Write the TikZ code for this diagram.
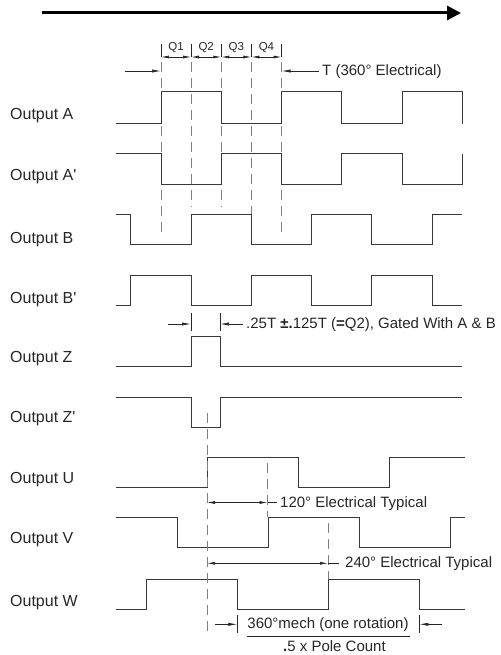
\documentclass[tikz,border=0pt]{standalone}
\usepackage{fontspec}
\setmainfont{Liberation Sans}
\usetikzlibrary{arrows.meta}
\begin{document}
\begin{tikzpicture}[x=1pt,y=-1pt,
  wave/.style={draw=black!78,line width=1pt,line join=miter},
  guide/.style={draw=black!50,line width=0.7pt,dash pattern=on 10pt off 6pt},
  dim/.style={draw=black!85,line width=0.7pt},
  dimarrow/.style={dim,-{Latex[length=9pt,width=3.2pt]}},
  dimboth/.style={dim,{Latex[length=8pt,width=3pt]}-{Latex[length=8pt,width=3pt]}},
  lbl/.style={anchor=base west,inner sep=0pt,font=\fontsize{16}{18}\selectfont,text=black!85},
  note/.style={anchor=base west,inner sep=0pt,font=\fontsize{15}{17}\selectfont,text=black!85},
  qlbl/.style={anchor=base,inner sep=0pt,font=\fontsize{11.5}{13}\selectfont,text=black!85}
]
\useasboundingbox (0,0) rectangle (500,655);

% direction arrow
\coordinate (dirL) at (42,13);
\coordinate (dirR) at (461,13);
\draw[line width=3pt,-{Triangle[length=14pt,width=14pt]}] (dirL) -- (dirR);

% labels
\node[lbl] (lA)  at (10,120) {Output A};
\node[lbl] (lA2) at (10,180) {Output A\textquotesingle};
\node[lbl] (lB)  at (10,243) {Output B};
\node[lbl] (lB2) at (10,303) {Output B\textquotesingle};
\node[lbl] (lZ)  at (10,362) {Output Z};
\node[lbl] (lZ2) at (10,422) {Output Z\textquotesingle};
\node[lbl] (lU)  at (10,483) {Output U};
\node[lbl] (lV)  at (10,543) {Output V};
\node[lbl] (lW)  at (10,606) {Output W};

% guide lines (quarters)
\foreach \x/\yb in {161/238,191.125/206.5,221.25/206.5,251.375/238,281.5/238}{
  \draw[dim] (\x,44) -- (\x,57);
  \draw[guide] (\x,62) -- (\x,\yb);
}
% Q dimension arrows
\coordinate (q0) at (161,57);
\coordinate (q1) at (191.125,57);
\coordinate (q2) at (221.25,57);
\coordinate (q3) at (251.375,57);
\coordinate (q4) at (281.5,57);
\draw[dimboth] (q0) -- (q1);
\draw[dimboth] (q1) -- (q2);
\draw[dimboth] (q2) -- (q3);
\draw[dimboth] (q3) -- (q4);
\node[qlbl] (Q1) at (176.06,51) {Q1};
\node[qlbl] (Q2) at (206.19,51) {Q2};
\node[qlbl] (Q3) at (236.31,51) {Q3};
\node[qlbl] (Q4) at (266.44,51) {Q4};

% T dimension
\coordinate (tL0) at (125,71);
\coordinate (tL1) at (161,71);
\coordinate (tR0) at (319,71);
\coordinate (tR1) at (281.5,71);
\draw[dimarrow] (tL0) -- (tL1);
\draw[dimarrow] (tR0) -- (tR1);
\node[note] (tText) at (322,75.5) {T (360° Electrical)};

% waveforms A, A', B, B'
\draw[wave] (116,124) -- (161,124) |- (221.25,92) |- (281.5,124) |- (341.75,92) |- (402,124) |- (462.25,92) -- (462.25,124);
\draw[wave] (116,154) -- (161,154) |- (221.25,184) |- (281.5,154) |- (341.75,184) |- (402,154) |- (462.25,184) -- (462.25,154);
\draw[wave] (116,214.3) -- (130.9,214.3) |- (191.1,244.3) |- (251.4,214.3) |- (311.6,244.3) |- (371.9,214.3) |- (432.1,244.3) |- (462.25,214.3);
\draw[wave] (116,305) -- (130.9,305) |- (191.1,275) |- (251.4,305) |- (311.6,275) |- (371.9,305) |- (432.1,275) |- (462.25,305);

% .25T dimension
\draw[dim] (191,313) -- (191,331);
\draw[dim] (220,313) -- (220,331);
\coordinate (zL0) at (168,324);
\coordinate (zL1) at (191,324);
\coordinate (zR0) at (243,324);
\coordinate (zR1) at (220,324);
\draw[dimarrow] (zL0) -- (zL1);
\draw[dimarrow] (zR0) -- (zR1);
\node[note] (zText) at (246,328.5) {.25T \textbf{±.}125T (\textbf{=}Q2), Gated With A \& B};

% Z, Z'
\draw[wave] (116,366) -- (191,366) |- (220,336) |- (462.25,366);
\draw[wave] (116,397) -- (191,397) |- (220,427) |- (462.25,397);

% U, V, W
\draw[wave] (116,487.3) -- (207,487.3) |- (298,457.3) |- (389,487.3) |- (465,457.3);
\draw[wave] (116,517.7) -- (177,517.7) |- (268,547.7) |- (359,517.7) |- (450,547.7) |- (465,517.7);
\draw[wave] (116,609) -- (146.5,609) |- (237.3,579.3) |- (328.3,609) |- (419.3,579.3) |- (465,609);

% phase guide lines
\draw[guide] (207,413) -- (207,632);
\draw[guide] (267.5,462.7) -- (267.5,517);
\draw[guide] (328,522.7) -- (328,579);

% 120 deg
\coordinate (u0) at (207,502.5);
\coordinate (u1) at (267.5,502.5);
\coordinate (u2) at (277,502.5);
\draw[dimboth] (u0) -- (u1);
\draw[dim] (u1) -- (u2);
\node[note] (uText) at (280,507) {120° Electrical Typical};

% 240 deg
\coordinate (v0) at (207,563.3);
\coordinate (v1) at (328,563.3);
\coordinate (v2) at (339,563.3);
\draw[dimboth] (v0) -- (v1);
\draw[dim] (v1) -- (v2);
\node[note] (vText) at (345,567.5) {240° Electrical Typical};

% 360 mech
\draw[dim] (237.3,615) -- (237.3,633);
\draw[dim] (419.3,615) -- (419.3,633);
\coordinate (m0) at (215,624.3);
\coordinate (m1) at (237.3,624.3);
\coordinate (m2) at (442,624.3);
\coordinate (m3) at (419.3,624.3);
\draw[dimarrow] (m0) -- (m1);
\draw[dimarrow] (m2) -- (m3);
\node[note,anchor=base] (mText) at (328,628.5) {360°mech (one rotation)};
\coordinate (f0) at (246.7,636.5);
\coordinate (f1) at (410,636.5);
\draw[dim,line width=0.9pt] (f0) -- (f1);
\node[note] (pText) at (283,651) {\textbf{.}5 x Pole Count};
\end{tikzpicture}
\end{document}
